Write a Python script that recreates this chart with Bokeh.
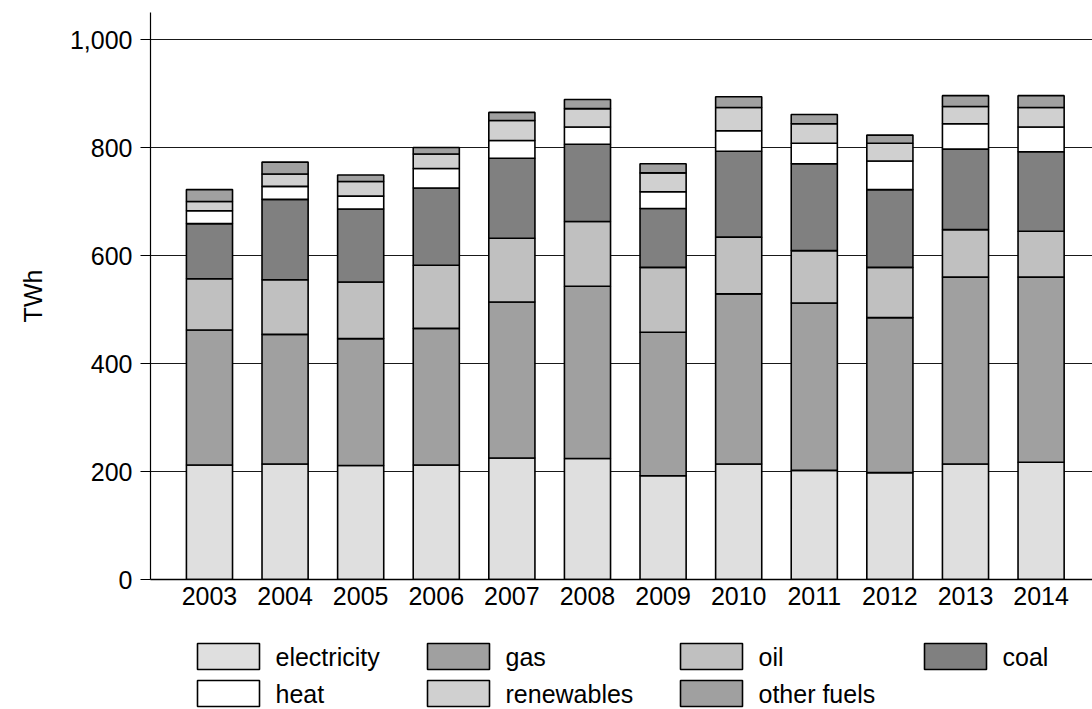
from bokeh.plotting import figure
from bokeh.layouts import column
from bokeh.models import ColumnDataSource, Range1d, FixedTicker, NumeralTickFormatter
from bokeh.core.properties import value
from bokeh.embed import file_html
from bokeh.resources import INLINE

years = ["2003", "2004", "2005", "2006", "2007", "2008", "2009", "2010", "2011", "2012", "2013", "2014"]
electricity = [212, 214, 211, 212, 225, 224, 192, 214, 202, 198, 214, 217]
gas = [250, 240, 235, 253, 289, 319, 266, 315, 310, 287, 346, 343]
oil = [95, 101, 105, 117, 118, 120, 120, 105, 97, 93, 88, 85]
coal = [102, 149, 135, 143, 148, 143, 109, 159, 161, 144, 149, 147]
heat = [24, 24, 24, 36, 33, 32, 31, 38, 38, 53, 47, 46]
renewables = [17, 23, 27, 27, 37, 34, 35, 43, 36, 33, 32, 36]
other_fuels = [22, 22, 12, 12, 15, 17, 17, 20, 17, 15, 20, 22]

series = ["electricity", "gas", "oil", "coal", "heat", "renewables", "other fuels"]
keys = ["electricity", "gas", "oil", "coal", "heat", "renewables", "other_fuels"]
colors = ["#dfdfdf", "#a0a0a0", "#c0c0c0", "#808080", "#ffffff", "#d0d0d0", "#a0a0a0"]
y_ticks = [0, 200, 400, 600, 800, 1000]

FONT = "Liberation Sans"
FS = "25px"

x = list(range(len(years)))
source = ColumnDataSource(dict(x=x, electricity=electricity, gas=gas, oil=oil, coal=coal,
                               heat=heat, renewables=renewables, other_fuels=other_fuels))

W = 1092
H_MAIN = 620
H_LEG = 89
LEFT = 150

p = figure(width=W, height=H_MAIN, output_backend="svg", toolbar_location=None,
           x_range=Range1d(-0.78, 11.68), y_range=Range1d(0, 1050),
           min_border_left=LEFT, min_border_right=0, min_border_top=12, min_border_bottom=41)
p.outline_line_color = None
p.xgrid.visible = False
p.ygrid.ticker = FixedTicker(ticks=y_ticks)
p.ygrid.grid_line_color = "#000000"
p.ygrid.grid_line_width = 1
p.ygrid.grid_line_alpha = 0.9

rs = p.vbar_stack(keys, x="x", width=0.61, source=source, fill_color=colors,
                  line_color="#000000", line_width=1.6)

# axes
p.xaxis.ticker = FixedTicker(ticks=x)
p.xaxis.major_label_overrides = {i: y for i, y in enumerate(years)}
p.xaxis.major_tick_out = 0
p.xaxis.major_tick_in = 0
p.xaxis.minor_tick_line_color = None
p.xaxis.major_label_standoff = 7
p.xaxis.axis_line_color = "#000000"
p.xaxis.axis_line_width = 1.5

p.yaxis.ticker = FixedTicker(ticks=y_ticks)
p.yaxis.formatter = NumeralTickFormatter(format="0,0")
p.yaxis.major_tick_out = 10
p.yaxis.major_tick_in = 0
p.yaxis.minor_tick_line_color = None
p.yaxis.major_label_standoff = 8
p.yaxis.axis_label = "TWh"
p.yaxis.axis_label_standoff = 20
p.yaxis.axis_line_color = "#000000"
p.yaxis.axis_line_width = 1.2

for ax in (p.xaxis, p.yaxis):
    ax.major_label_text_font = FONT
    ax.major_label_text_font_size = FS
    ax.major_label_text_color = "#000000"
    ax.axis_label_text_font = FONT
    ax.axis_label_text_font_size = FS
    ax.axis_label_text_font_style = "normal"
    ax.axis_label_text_color = "#000000"
    ax.major_tick_line_color = "#000000"

# legend figure (page pixel coordinates), four columns, row-major order
col_left = [197, 427, 680, 924]
row_top = [643, 680]
GW, GH, STANDOFF = 62, 26, 16
lx, ly, lt, lc = [], [], [], []
for i, name in enumerate(series):
    c, r = i % 4, i // 4
    lx.append(col_left[c])
    ly.append(row_top[r])
    lt.append(name)
    lc.append(colors[i])
leg_src = ColumnDataSource(dict(
    cx=[v + GW / 2 for v in lx], cy=[v + GH / 2 for v in ly],
    tx=[v + GW + STANDOFF for v in lx], label=lt, color=lc))

lf = figure(width=W, height=H_LEG, output_backend="svg", toolbar_location=None,
            x_range=Range1d(LEFT, W), y_range=Range1d(H_MAIN + H_LEG, H_MAIN),
            min_border_left=LEFT, min_border_right=0, min_border_top=0, min_border_bottom=0,
            x_axis_location=None, y_axis_location=None)
lf.outline_line_color = None
lf.grid.visible = False
lf.rect(x="cx", y="cy", width=GW, height=GH, source=leg_src, fill_color="color",
        line_color="#000000", line_width=1.6)
lf.text(x="tx", y="cy", text="label", source=leg_src, text_font=value(FONT),
        text_font_size=value(FS), text_baseline="middle", text_align="left", text_color="#000000")

layout = column(p, lf, spacing=0)
open("out.html", "w").write(file_html(layout, INLINE))
